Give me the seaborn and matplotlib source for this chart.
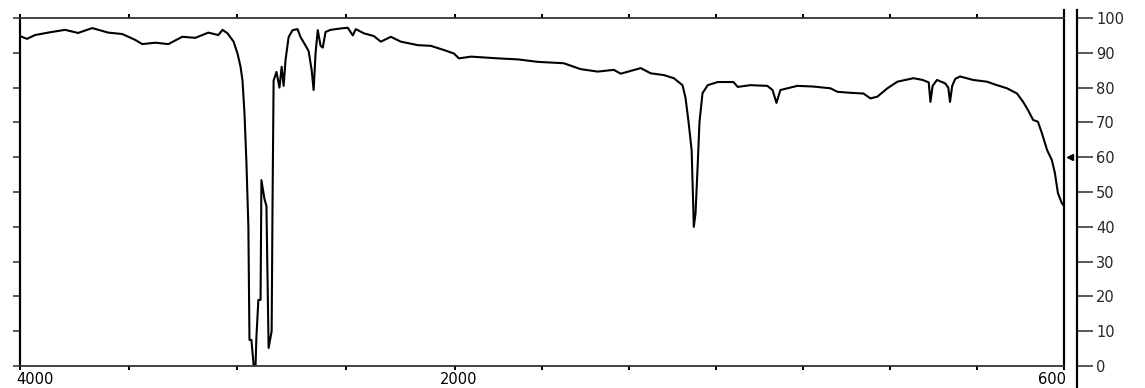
import numpy as np
import pandas as pd
import matplotlib
matplotlib.use("Agg")
import matplotlib.pyplot as plt
import matplotlib.transforms as mtransforms
import seaborn as sns

# IR spectrum (wavenumber in cm-1, transmittance in %)
wavenumber = [
    4000, 3968, 3931, 3871, 3793, 3733, 3668, 3594, 3530, 3470, 3438, 3378,
    3318, 3254, 3194, 3134, 3088, 3069, 3046, 3018, 3000, 2986, 2977, 2968,
    2959, 2950, 2945, 2936, 2926, 2917, 2913, 2904, 2894, 2890, 2876, 2867,
    2857, 2843, 2839, 2834, 2821, 2807, 2797, 2788, 2779, 2765, 2747, 2724,
    2710, 2691, 2673, 2659, 2650, 2641, 2631, 2618, 2608, 2595, 2572, 2525,
    2493, 2470, 2456, 2419, 2373, 2341, 2295, 2249, 2171, 2111, 2051, 2005,
    1991, 1963, 1901, 1855, 1810, 1750, 1711, 1672, 1635, 1619, 1573, 1550,
    1520, 1497, 1477, 1470, 1463, 1456, 1451, 1447, 1442, 1438, 1431, 1419,
    1396, 1360, 1350, 1321, 1282, 1270, 1261, 1252, 1213, 1176, 1137, 1121,
    1091, 1061, 1045, 1029, 1006, 983, 946, 925, 911, 907, 902, 892, 873,
    866, 862, 857, 850, 839, 809, 777, 754, 731, 708, 694, 683, 671, 660,
    651, 639, 628, 621, 614, 605, 600,
]
transmittance = [
    94.8, 94.0, 95.1, 95.8, 96.6, 95.7, 97.1, 95.8, 95.4, 93.7, 92.5, 92.9,
    92.5, 94.6, 94.3, 95.8, 95.1, 96.6, 95.6, 93.2, 89.8, 86.0, 82.0, 72.7,
    58.6, 40.0, 7.5, 7.5, 0.3, 0.3, 8.4, 19.0, 19.0, 53.4, 48.0, 46.0,
    5.2, 10.0, 46.0, 82.0, 84.5, 80.0, 86.0, 80.5, 88.0, 94.5, 96.5, 96.8,
    94.5, 92.5, 90.5, 85.0, 79.3, 90.0, 96.5, 92.0, 91.5, 96.0, 96.6, 97.0,
    97.2, 95.0, 96.8, 95.6, 94.8, 93.2, 94.6, 93.2, 92.2, 92.0, 90.8, 89.8,
    88.4, 88.9, 88.4, 88.1, 87.4, 87.0, 85.3, 84.6, 85.1, 84.0, 85.6, 84.1,
    83.6, 82.7, 80.7, 77.0, 70.0, 62.0, 40.0, 44.0, 58.0, 70.0, 78.4, 80.7,
    81.6, 81.6, 80.2, 80.7, 80.5, 79.3, 75.6, 79.3, 80.5, 80.3, 79.8, 78.8,
    78.5, 78.3, 76.9, 77.4, 79.8, 81.7, 82.7, 82.2, 81.5, 75.9, 80.5, 82.2, 81.2,
    80.0, 75.9, 80.5, 82.5, 83.2, 82.2, 81.7, 80.7, 79.8, 78.3, 75.9, 73.6, 70.7, 70.2,
    67.0, 62.1, 59.2, 55.5, 49.7, 46.8, 46.0,
]

major_ticks = [4000, 2000, 600]
major_labels = ["4000", "2000", "600"]
minor_ticks = [3500, 3000, 2500, 1800, 1600, 1400, 1200, 1000, 800]
y_ticks = list(range(0, 101, 10))
marker_level = 60


# the x axis is compressed 2:1 above 2000 cm-1
def fwd(w):
    w = np.asarray(w, dtype=float)
    return np.where(w >= 2000, 2000 + (w - 2000) / 2, w)


def inv(p):
    p = np.asarray(p, dtype=float)
    return np.where(p >= 2000, 2000 + (p - 2000) * 2, p)


sns.set_style("ticks")
plt.rcParams['font.family'] = ['DejaVu Sans']

PX = 0.72  # points per pixel at dpi 100

fig = plt.figure(figsize=(11.45, 3.88), dpi=100)
ax = fig.add_axes([20 / 1145, 22 / 388, 1044 / 1145, 348 / 388])

df = pd.DataFrame({"wn": wavenumber, "T": transmittance})
sns.lineplot(data=df, x="wn", y="T", ax=ax, color="black", lw=1.5,
             sort=False, estimator=None)

ax.set_xscale("function", functions=(fwd, inv))
ax.set_xlim(4000, 600)
ax.set_ylim(0, 100)
ax.set_xlabel("")
ax.set_ylabel("")

ax.set_xticks(major_ticks)
ax.set_xticklabels(major_labels)
ax.set_xticks(minor_ticks, minor=True)
ax.tick_params(axis="x", which="both", direction="out", length=4 * PX,
               width=2 * PX, top=True, bottom=True, labelsize=10.5,
               pad=2 * PX, colors="black")
ax.set_yticks(y_ticks)
ax.tick_params(axis="y", which="both", direction="out", length=7 * PX,
               width=1.5 * PX, left=True, right=True, labelleft=False,
               labelright=False)

for side in ["left", "right"]:
    ax.spines[side].set_linewidth(2.2 * PX)
    ax.spines[side].set_color("black")
for side in ["top", "bottom"]:
    ax.spines[side].set_linewidth(1.8 * PX)
    ax.spines[side].set_color("#333333")
ax.spines["right"].set_bounds(0, 102.3)

# shift the end labels like the original
for lab, dx in zip(ax.get_xticklabels(), [15, 4, -12]):
    lab.set_transform(lab.get_transform() +
                      mtransforms.ScaledTranslation(dx / 100, 0, fig.dpi_scale_trans))

# second scale on the right
ax2 = ax.twinx()
ax2.set_ylim(0, 100)
ax2.set_yticks(y_ticks)
ax2.set_yticklabels([str(v) for v in y_ticks])
for side in ["left", "top", "bottom"]:
    ax2.spines[side].set_visible(False)
ax2.spines["right"].set_position(("outward", 13 * PX))
ax2.spines["right"].set_linewidth(2.2 * PX)
ax2.spines["right"].set_color("black")
ax2.spines["right"].set_bounds(-6.3, 102.3)
ax2.tick_params(axis="y", direction="out", length=16 * PX, width=1.5 * PX,
                pad=3 * PX, labelsize=10.5)

# small marker on the inner scale
mark_tr = mtransforms.blended_transform_factory(ax.transAxes, ax.transData) + \
    mtransforms.ScaledTranslation(6 / 100, 0, fig.dpi_scale_trans)
ax.plot([1.0], [marker_level], marker="<", ms=5, color="black",
        transform=mark_tr, clip_on=False)

fig.savefig("out.png", dpi=100)
